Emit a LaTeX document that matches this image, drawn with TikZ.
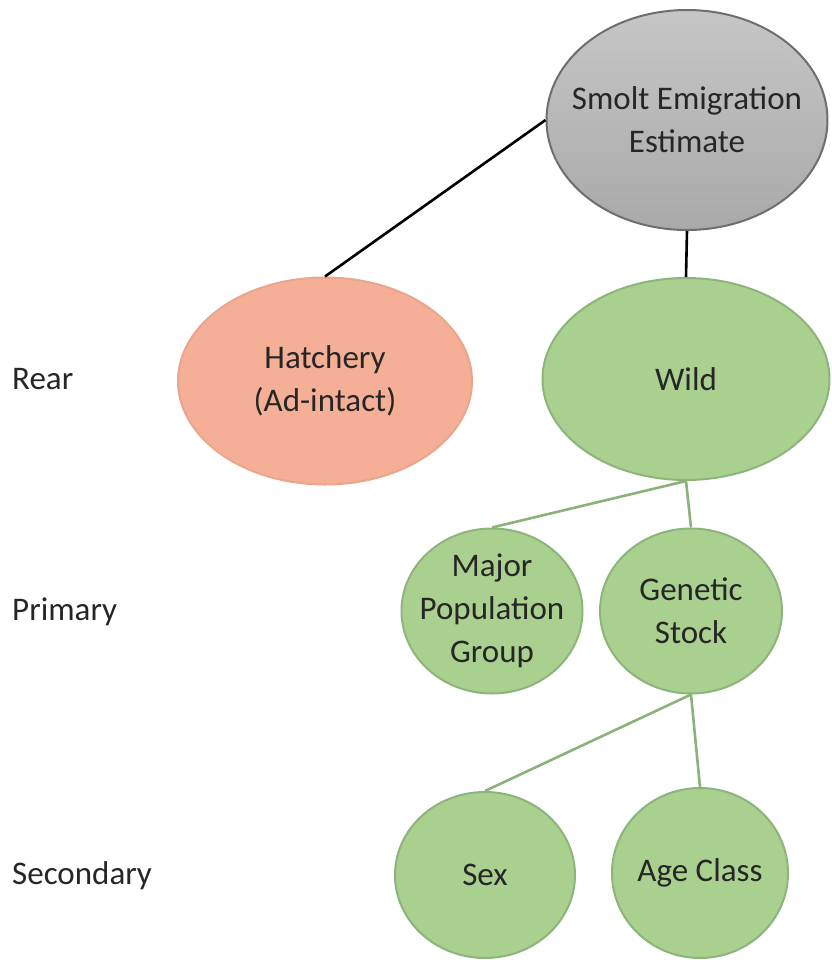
\documentclass[tikz,border=0pt]{standalone}
\usepackage{fontspec}
\setmainfont{Carlito}
\usetikzlibrary{shapes.geometric}
\definecolor{txtdark}{HTML}{262626}
\definecolor{smolttop}{HTML}{C6C6C6}
\definecolor{smoltbot}{HTML}{A9A9A9}
\definecolor{smoltedge}{HTML}{6E6E6E}
\definecolor{hatchfill}{HTML}{F4AF96}
\definecolor{hatchedge}{HTML}{E9A68C}
\definecolor{greenfill}{HTML}{A9D08E}
\definecolor{greenedge}{HTML}{8DB57B}
\definecolor{greenlink}{HTML}{8AB27A}

\begin{document}
\begin{tikzpicture}[x=1pt,y=-1pt,
    oval/.style={ellipse,draw,line width=2pt,inner sep=-20pt,align=center,
      text=txtdark,font=\fontsize{33}{43}\selectfont},
    wildoval/.style={oval,draw=greenedge,fill=greenfill},
    levelname/.style={anchor=west,inner sep=0pt,text=txtdark,
      font=\fontsize{33}{43}\selectfont},
    greenwire/.style={line width=2.6pt,draw=greenlink}]
  \useasboundingbox (0,0) rectangle (832,962);

  % level names
  \node[levelname] (rear) at (12,379) {Rear};
  \node[levelname] (primary) at (12,612) {Primary};
  \node[levelname] (secondary) at (12,876) {Secondary};

  % tree
  \node[oval,draw=smoltedge,top color=smolttop,bottom color=smoltbot,
    minimum width=281pt,minimum height=220pt] (smolt) at (687,120) {Smolt Emigration\\Estimate};
  \node[oval,draw=hatchedge,fill=hatchfill,minimum width=294pt,minimum height=207pt]
    (hatch) at (325,381) {Hatchery\\(Ad-intact)};
  \node[wildoval,minimum width=287pt,minimum height=202pt] (wild) at (686,379) {Wild};
  \node[wildoval,minimum width=181pt,minimum height=165pt] (major) at (492,611) {Major\\Population\\Group};
  \node[wildoval,minimum width=182pt,minimum height=165pt] (genetic) at (691,611) {Genetic\\Stock};
  \node[wildoval,minimum width=180pt,minimum height=166pt] (sex) at (485,875) {Sex};
  \node[wildoval,minimum width=176pt,minimum height=170pt] (age) at (700,873) {Age Class};

  \draw[line width=2.6pt] (smolt.west) -- (hatch.north);
  \draw[line width=2.6pt] (smolt.south) -- (wild.north);
  \draw[greenwire] (wild.south) -- (major.north);
  \draw[greenwire] (wild.south) -- (genetic.north);
  \draw[greenwire] (genetic.south) -- (sex.north);
  \draw[greenwire] (genetic.south) -- (age.north);
\end{tikzpicture}
\end{document}
